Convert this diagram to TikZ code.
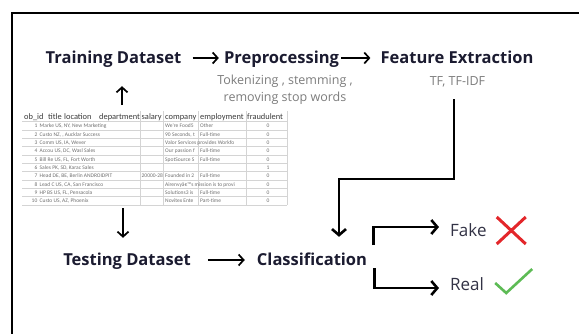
\documentclass[tikz,border=0pt]{standalone}
\usepackage{fontspec}
\setmainfont{Open Sans}
\newfontfamily\sheetfont{Carlito}
\usetikzlibrary{arrows.meta}

\definecolor{ink}{HTML}{1B1B30}
\definecolor{notegray}{HTML}{7C7C7C}
\definecolor{gridgray}{HTML}{D4D4D4}
\definecolor{cellgray}{HTML}{6E6E6E}
\definecolor{headgray}{HTML}{3A3A3A}
\definecolor{fakered}{HTML}{E3262A}
\definecolor{realgreen}{HTML}{5DBB55}

\begin{document}
\begin{tikzpicture}[x=1pt,y=-1pt,
    stage/.style={font=\bfseries\fontsize{16.5}{18}\selectfont, text=ink,
        text height=10pt, text depth=0pt, inner sep=2pt},
    hint/.style={font=\fontsize{12.5}{17}\selectfont, text=notegray, align=center},
    verdict/.style={font=\fontsize{17}{19}\selectfont, text=ink!90,
        text height=12pt, text depth=0pt, inner sep=2pt},
    flow/.style={line width=1.7pt, -{Straight Barb[length=5pt,width=11pt]}},
    link/.style={line width=2.6pt, -{Straight Barb[length=6pt,width=14pt]}},
    colhead/.style={font=\sheetfont\fontsize{8.4}{9}\selectfont, text=headgray,
        inner sep=0pt, anchor=base west},
    cell/.style={font=\sheetfont\fontsize{5.5}{6}\selectfont, text=cellgray,
        inner sep=0pt, anchor=base west}
]
    \useasboundingbox (0,0) rectangle (579,333);

    \draw[line width=1.6pt] (12,345) -- (12,13) -- (590,13);

    \node[stage, anchor=base] (train) at (113.5,63) {Training Dataset};
    \node[stage, anchor=base] (prep) at (281.5,63) {Preprocessing};
    \node[stage, anchor=base] (feat) at (457,63) {Feature Extraction};
    \node[hint] (prepnote) at (285,89.5) {Tokenizing , stemming ,\\removing stop words};
    \node[hint] (tfidf) at (457.5,82) {TF, TF-IDF};

    \node[stage, anchor=base] (test) at (127,265) {Testing Dataset};
    \node[stage, anchor=base] (class) at (312,265) {Classification};
    \node[verdict, anchor=base west] (fake) at (448,236) {Fake};
    \node[verdict, anchor=base west] (real) at (448,290) {Real};

    \draw[flow, shorten <=9pt, shorten >=3pt] (train.east) -- (prep.west);
    \draw[flow, shorten >=8pt] (prep.east) -- (feat.west);
    \draw[flow, shorten <=15pt, shorten >=10pt] (test.east) -- (class.west);

    % spreadsheet
    \node[minimum width=266pt, minimum height=96pt, inner sep=0pt, anchor=north west]
        (sheet) at (22,110) {};
    \foreach \k in {0,...,10}
        \draw[gridgray, line width=0.4pt] (22,{121.5+8.33*\k}) -- (287,{121.5+8.33*\k});
    \foreach \gx in {140,163,198,246,287}
        \draw[gridgray, line width=0.4pt] (\gx,111) -- (\gx,205);
    \foreach \hx/\hname [count=\c] in {24/ob\_id,48/title,64/location,99/department,
        141.5/salary,165/company,200/employment,247/fraudulent}
        \node[colhead] (head\c) at (\hx,119.5) {\hname};
    \foreach \n/\txt/\sal/\comp/\emp/\fr [count=\i from 0] in {
        1/{Marke US, NY, New Marketing}//{We're Food5}/Other/0,
        2/{Custo NZ, , Aucklar Success}//{90 Seconds, t}/Full-time/0,
        3/{Comm US, IA, Wever}//{Valor Services provides Workfo}//0,
        4/{Accou US, DC, Wasl Sales}//{Our passion f}/Full-time/0,
        5/{Bill Re US, FL, Fort Worth}//{SpotSource S}/Full-time/0,
        6/{Sales PK, SD, Karac Sales}////1,
        7/{Head DE, BE, Berlin ANDROIDPIT}/20000-28/{Founded in 2}/Full-time/0,
        8/{Lead C US, CA, San Francisco}//{Airenvyâ€™s mission is to provi}//0,
        9/{HP BS US, FL, Pensacola}//{Solutions3 is}/Full-time/0,
        10/{Custo US, AZ, Phoenix}//{Novitex Ente}/Part-time/0} {
        \node[cell, anchor=base east] (id\n) at (37.5,{127.8+8.33*\i}) {\n};
        \node[cell] (title\n) at (39.5,{127.8+8.33*\i}) {\txt};
        \node[cell] (salary\n) at (141.5,{127.8+8.33*\i}) {\sal};
        \node[cell] (company\n) at (165,{127.8+8.33*\i}) {\comp};
        \node[cell] (employ\n) at (200,{127.8+8.33*\i}) {\emp};
        \node[cell, anchor=base] (fraud\n) at (268,{127.8+8.33*\i}) {\fr};
    }

    \coordinate (upfoot) at (122,105);
    \coordinate (downfoot) at (123,208);
    \draw[flow, shorten >=21pt] (upfoot) -- (upfoot |- train.south);
    \draw[flow, shorten >=15pt] (downfoot) -- (downfoot |- test.north);

    \coordinate (fxdrop) at (454,99);
    \coordinate (bend) at (339,179);
    \draw[link, shorten >=16pt] (fxdrop) |- (bend) -- (bend |- class.north);

    \draw[link, shorten >=9pt] ([xshift=4pt,yshift=15pt]class.east) |- ([yshift=3pt]fake.west);
    \draw[link, shorten >=9pt] ([xshift=5pt,yshift=-8pt]class.east) |- ([yshift=-4pt]real.west);

    \draw[fakered, line width=3pt] ([shift={(8,-13)}]fake.east) -- ++(29,27)
        ([shift={(8,14)}]fake.east) -- ++(29,-27);
    \draw[realgreen, line width=2.6pt] ([shift={(9,-1)}]real.east) -- ++(11,10) -- ++(26,-24);
\end{tikzpicture}
\end{document}
